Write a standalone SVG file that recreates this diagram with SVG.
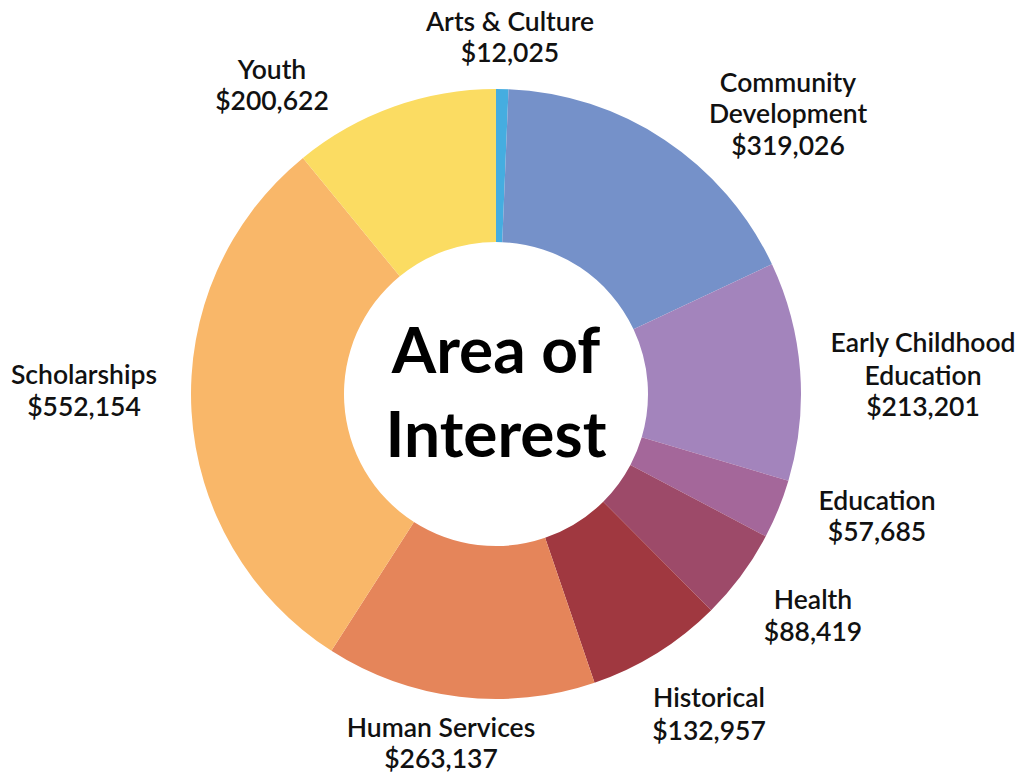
<svg xmlns="http://www.w3.org/2000/svg" width="1019" height="777" viewBox="0 0 1019 777">
<style>
.lbl{font-family:Lato,"Open Sans",sans-serif;font-weight:600;font-size:26.5px;fill:#111;text-anchor:middle}
.title{font-family:Lato,"Open Sans",sans-serif;font-weight:700;font-size:64px;fill:#000;text-anchor:middle}
</style>
<rect width="1019" height="777" fill="#fff"/>
<g id="slices">
<g id="arts"><path d="M496,89 A305,305 0 0 1 508.53,89.26 L502.24,242.13 A152,152 0 0 0 496,242 Z" fill="#45ADE0"/></g>
<g id="community"><path d="M508.53,89.26 A305,305 0 0 1 771.97,264.14 L633.53,329.28 A152,152 0 0 0 502.24,242.13 Z" fill="#7591C9"/></g>
<g id="early"><path d="M771.97,264.14 A305,305 0 0 1 788.40,480.77 L641.72,437.24 A152,152 0 0 0 633.53,329.28 Z" fill="#A384BC"/></g>
<g id="education"><path d="M788.40,480.77 A305,305 0 0 1 765.77,536.34 L630.44,464.94 A152,152 0 0 0 641.72,437.24 Z" fill="#A4679A"/></g>
<g id="health"><path d="M765.77,536.34 A305,305 0 0 1 711.18,610.16 L603.24,501.72 A152,152 0 0 0 630.44,464.94 Z" fill="#9D4A69"/></g>
<g id="historical"><path d="M711.18,610.16 A305,305 0 0 1 594.54,682.65 L545.11,537.85 A152,152 0 0 0 603.24,501.72 Z" fill="#A03840"/></g>
<g id="human"><path d="M594.54,682.65 A305,305 0 0 1 331.42,650.78 L413.98,521.97 A152,152 0 0 0 545.11,537.85 Z" fill="#E5855A"/></g>
<g id="scholarships"><path d="M331.42,650.78 A305,305 0 0 1 302.94,157.88 L399.79,276.32 A152,152 0 0 0 413.98,521.97 Z" fill="#F9B769"/></g>
<g id="youth"><path d="M302.94,157.88 A305,305 0 0 1 496,89 L496,242 A152,152 0 0 0 399.79,276.32 Z" fill="#FBDC62"/></g>
</g>
<g id="center">
<text class="title" x="496" y="373">Area of</text>
<text class="title" x="496" y="457">Interest</text>
</g>
<g id="labels">
<text class="lbl" x="510" y="31">Arts &amp; Culture</text>
<text class="lbl" x="510" y="62">$12,025</text>
<text class="lbl" x="272" y="79">Youth</text>
<text class="lbl" x="272" y="110">$200,622</text>
<text class="lbl" x="788" y="92">Community</text>
<text class="lbl" x="788" y="123">Development</text>
<text class="lbl" x="788" y="155">$319,026</text>
<text class="lbl" x="923" y="352">Early Childhood</text>
<text class="lbl" x="923" y="385">Education</text>
<text class="lbl" x="923" y="416">$213,201</text>
<text class="lbl" x="877" y="510">Education</text>
<text class="lbl" x="877" y="541">$57,685</text>
<text class="lbl" x="813" y="609">Health</text>
<text class="lbl" x="813" y="641">$88,419</text>
<text class="lbl" x="709" y="707">Historical</text>
<text class="lbl" x="709" y="740">$132,957</text>
<text class="lbl" x="441" y="737">Human Services</text>
<text class="lbl" x="441" y="768">$263,137</text>
<text class="lbl" x="84" y="384">Scholarships</text>
<text class="lbl" x="84" y="416">$552,154</text>
</g>
</svg>
